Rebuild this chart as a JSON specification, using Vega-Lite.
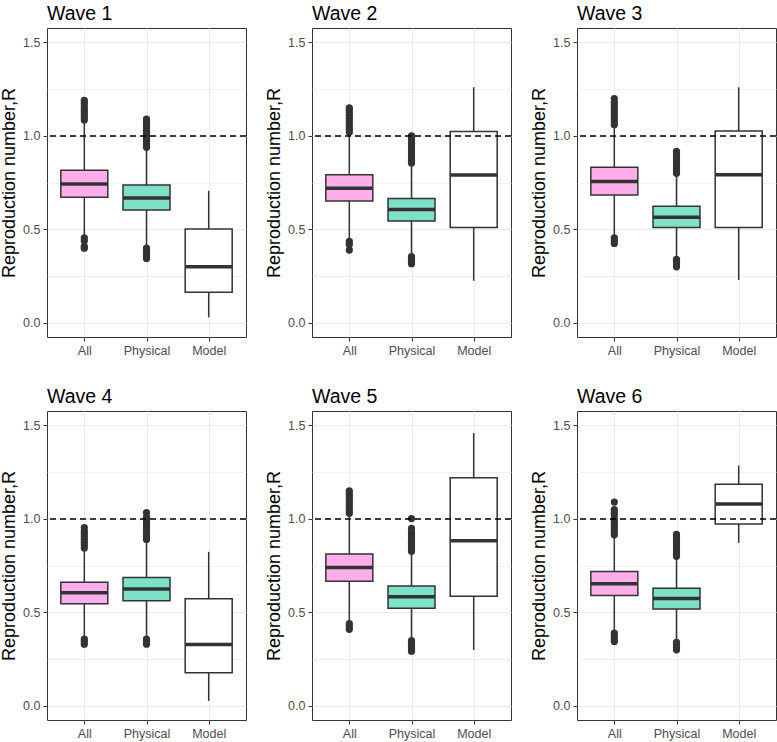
{
  "$schema": "https://vega.github.io/schema/vega-lite/v6.json",
  "padding": {"top": 3, "left": 0, "right": 0, "bottom": 2},
  "background": "white",
  "data": {"values": [
    {"wave": "Wave 1", "group": "All", "kind": "box", "lo": 0.46, "q1": 0.672, "med": 0.743, "q3": 0.816, "hi": 1.08},
    {"wave": "Wave 1", "group": "Physical", "kind": "box", "lo": 0.41, "q1": 0.604, "med": 0.668, "q3": 0.738, "hi": 0.93},
    {"wave": "Wave 1", "group": "Model", "kind": "box", "lo": 0.03, "q1": 0.164, "med": 0.301, "q3": 0.502, "hi": 0.707},
    {"wave": "Wave 2", "group": "All", "kind": "box", "lo": 0.45, "q1": 0.652, "med": 0.72, "q3": 0.793, "hi": 1.01},
    {"wave": "Wave 2", "group": "Physical", "kind": "box", "lo": 0.37, "q1": 0.545, "med": 0.606, "q3": 0.666, "hi": 0.845},
    {"wave": "Wave 2", "group": "Model", "kind": "box", "lo": 0.226, "q1": 0.51, "med": 0.791, "q3": 1.024, "hi": 1.26},
    {"wave": "Wave 3", "group": "All", "kind": "box", "lo": 0.47, "q1": 0.684, "med": 0.757, "q3": 0.832, "hi": 1.05},
    {"wave": "Wave 3", "group": "Physical", "kind": "box", "lo": 0.35, "q1": 0.51, "med": 0.565, "q3": 0.624, "hi": 0.79},
    {"wave": "Wave 3", "group": "Model", "kind": "box", "lo": 0.23, "q1": 0.51, "med": 0.793, "q3": 1.026, "hi": 1.26},
    {"wave": "Wave 4", "group": "All", "kind": "box", "lo": 0.37, "q1": 0.546, "med": 0.605, "q3": 0.662, "hi": 0.835},
    {"wave": "Wave 4", "group": "Physical", "kind": "box", "lo": 0.37, "q1": 0.562, "med": 0.625, "q3": 0.687, "hi": 0.88},
    {"wave": "Wave 4", "group": "Model", "kind": "box", "lo": 0.027, "q1": 0.178, "med": 0.329, "q3": 0.573, "hi": 0.824},
    {"wave": "Wave 5", "group": "All", "kind": "box", "lo": 0.45, "q1": 0.667, "med": 0.74, "q3": 0.813, "hi": 1.03},
    {"wave": "Wave 5", "group": "Physical", "kind": "box", "lo": 0.36, "q1": 0.523, "med": 0.584, "q3": 0.641, "hi": 0.82},
    {"wave": "Wave 5", "group": "Model", "kind": "box", "lo": 0.299, "q1": 0.587, "med": 0.883, "q3": 1.22, "hi": 1.459},
    {"wave": "Wave 6", "group": "All", "kind": "box", "lo": 0.4, "q1": 0.591, "med": 0.653, "q3": 0.719, "hi": 0.91},
    {"wave": "Wave 6", "group": "Physical", "kind": "box", "lo": 0.35, "q1": 0.518, "med": 0.575, "q3": 0.63, "hi": 0.8},
    {"wave": "Wave 6", "group": "Model", "kind": "box", "lo": 0.872, "q1": 0.973, "med": 1.08, "q3": 1.185, "hi": 1.286},

    {"wave": "Wave 1", "group": "All", "kind": "out", "r": 1.085},
    {"wave": "Wave 1", "group": "All", "kind": "out", "r": 1.1},
    {"wave": "Wave 1", "group": "All", "kind": "out", "r": 1.115},
    {"wave": "Wave 1", "group": "All", "kind": "out", "r": 1.13},
    {"wave": "Wave 1", "group": "All", "kind": "out", "r": 1.145},
    {"wave": "Wave 1", "group": "All", "kind": "out", "r": 1.16},
    {"wave": "Wave 1", "group": "All", "kind": "out", "r": 1.175},
    {"wave": "Wave 1", "group": "All", "kind": "out", "r": 1.19},
    {"wave": "Wave 1", "group": "All", "kind": "out", "r": 0.40},
    {"wave": "Wave 1", "group": "All", "kind": "out", "r": 0.41},
    {"wave": "Wave 1", "group": "All", "kind": "out", "r": 0.44},
    {"wave": "Wave 1", "group": "All", "kind": "out", "r": 0.455},
    {"wave": "Wave 1", "group": "Physical", "kind": "out", "r": 0.94},
    {"wave": "Wave 1", "group": "Physical", "kind": "out", "r": 0.955},
    {"wave": "Wave 1", "group": "Physical", "kind": "out", "r": 0.97},
    {"wave": "Wave 1", "group": "Physical", "kind": "out", "r": 0.985},
    {"wave": "Wave 1", "group": "Physical", "kind": "out", "r": 1.0},
    {"wave": "Wave 1", "group": "Physical", "kind": "out", "r": 1.015},
    {"wave": "Wave 1", "group": "Physical", "kind": "out", "r": 1.03},
    {"wave": "Wave 1", "group": "Physical", "kind": "out", "r": 1.045},
    {"wave": "Wave 1", "group": "Physical", "kind": "out", "r": 1.06},
    {"wave": "Wave 1", "group": "Physical", "kind": "out", "r": 1.075},
    {"wave": "Wave 1", "group": "Physical", "kind": "out", "r": 1.09},
    {"wave": "Wave 1", "group": "Physical", "kind": "out", "r": 0.345},
    {"wave": "Wave 1", "group": "Physical", "kind": "out", "r": 0.36},
    {"wave": "Wave 1", "group": "Physical", "kind": "out", "r": 0.375},
    {"wave": "Wave 1", "group": "Physical", "kind": "out", "r": 0.39},
    {"wave": "Wave 1", "group": "Physical", "kind": "out", "r": 0.40},

    {"wave": "Wave 2", "group": "All", "kind": "out", "r": 1.02},
    {"wave": "Wave 2", "group": "All", "kind": "out", "r": 1.035},
    {"wave": "Wave 2", "group": "All", "kind": "out", "r": 1.05},
    {"wave": "Wave 2", "group": "All", "kind": "out", "r": 1.065},
    {"wave": "Wave 2", "group": "All", "kind": "out", "r": 1.08},
    {"wave": "Wave 2", "group": "All", "kind": "out", "r": 1.095},
    {"wave": "Wave 2", "group": "All", "kind": "out", "r": 1.11},
    {"wave": "Wave 2", "group": "All", "kind": "out", "r": 1.125},
    {"wave": "Wave 2", "group": "All", "kind": "out", "r": 1.14},
    {"wave": "Wave 2", "group": "All", "kind": "out", "r": 1.15},
    {"wave": "Wave 2", "group": "All", "kind": "out", "r": 0.39},
    {"wave": "Wave 2", "group": "All", "kind": "out", "r": 0.42},
    {"wave": "Wave 2", "group": "All", "kind": "out", "r": 0.437},
    {"wave": "Wave 2", "group": "Physical", "kind": "out", "r": 0.855},
    {"wave": "Wave 2", "group": "Physical", "kind": "out", "r": 0.87},
    {"wave": "Wave 2", "group": "Physical", "kind": "out", "r": 0.885},
    {"wave": "Wave 2", "group": "Physical", "kind": "out", "r": 0.9},
    {"wave": "Wave 2", "group": "Physical", "kind": "out", "r": 0.915},
    {"wave": "Wave 2", "group": "Physical", "kind": "out", "r": 0.93},
    {"wave": "Wave 2", "group": "Physical", "kind": "out", "r": 0.945},
    {"wave": "Wave 2", "group": "Physical", "kind": "out", "r": 0.96},
    {"wave": "Wave 2", "group": "Physical", "kind": "out", "r": 0.975},
    {"wave": "Wave 2", "group": "Physical", "kind": "out", "r": 0.99},
    {"wave": "Wave 2", "group": "Physical", "kind": "out", "r": 1.0},
    {"wave": "Wave 2", "group": "Physical", "kind": "out", "r": 0.317},
    {"wave": "Wave 2", "group": "Physical", "kind": "out", "r": 0.33},
    {"wave": "Wave 2", "group": "Physical", "kind": "out", "r": 0.345},
    {"wave": "Wave 2", "group": "Physical", "kind": "out", "r": 0.355},

    {"wave": "Wave 3", "group": "All", "kind": "out", "r": 1.06},
    {"wave": "Wave 3", "group": "All", "kind": "out", "r": 1.075},
    {"wave": "Wave 3", "group": "All", "kind": "out", "r": 1.09},
    {"wave": "Wave 3", "group": "All", "kind": "out", "r": 1.105},
    {"wave": "Wave 3", "group": "All", "kind": "out", "r": 1.12},
    {"wave": "Wave 3", "group": "All", "kind": "out", "r": 1.135},
    {"wave": "Wave 3", "group": "All", "kind": "out", "r": 1.15},
    {"wave": "Wave 3", "group": "All", "kind": "out", "r": 1.165},
    {"wave": "Wave 3", "group": "All", "kind": "out", "r": 1.18},
    {"wave": "Wave 3", "group": "All", "kind": "out", "r": 1.2},
    {"wave": "Wave 3", "group": "All", "kind": "out", "r": 0.425},
    {"wave": "Wave 3", "group": "All", "kind": "out", "r": 0.44},
    {"wave": "Wave 3", "group": "All", "kind": "out", "r": 0.455},
    {"wave": "Wave 3", "group": "Physical", "kind": "out", "r": 0.8},
    {"wave": "Wave 3", "group": "Physical", "kind": "out", "r": 0.815},
    {"wave": "Wave 3", "group": "Physical", "kind": "out", "r": 0.83},
    {"wave": "Wave 3", "group": "Physical", "kind": "out", "r": 0.845},
    {"wave": "Wave 3", "group": "Physical", "kind": "out", "r": 0.86},
    {"wave": "Wave 3", "group": "Physical", "kind": "out", "r": 0.875},
    {"wave": "Wave 3", "group": "Physical", "kind": "out", "r": 0.89},
    {"wave": "Wave 3", "group": "Physical", "kind": "out", "r": 0.905},
    {"wave": "Wave 3", "group": "Physical", "kind": "out", "r": 0.918},
    {"wave": "Wave 3", "group": "Physical", "kind": "out", "r": 0.3},
    {"wave": "Wave 3", "group": "Physical", "kind": "out", "r": 0.315},
    {"wave": "Wave 3", "group": "Physical", "kind": "out", "r": 0.33},
    {"wave": "Wave 3", "group": "Physical", "kind": "out", "r": 0.34},

    {"wave": "Wave 4", "group": "All", "kind": "out", "r": 0.845},
    {"wave": "Wave 4", "group": "All", "kind": "out", "r": 0.86},
    {"wave": "Wave 4", "group": "All", "kind": "out", "r": 0.875},
    {"wave": "Wave 4", "group": "All", "kind": "out", "r": 0.89},
    {"wave": "Wave 4", "group": "All", "kind": "out", "r": 0.905},
    {"wave": "Wave 4", "group": "All", "kind": "out", "r": 0.92},
    {"wave": "Wave 4", "group": "All", "kind": "out", "r": 0.935},
    {"wave": "Wave 4", "group": "All", "kind": "out", "r": 0.954},
    {"wave": "Wave 4", "group": "All", "kind": "out", "r": 0.33},
    {"wave": "Wave 4", "group": "All", "kind": "out", "r": 0.345},
    {"wave": "Wave 4", "group": "All", "kind": "out", "r": 0.358},
    {"wave": "Wave 4", "group": "Physical", "kind": "out", "r": 0.89},
    {"wave": "Wave 4", "group": "Physical", "kind": "out", "r": 0.905},
    {"wave": "Wave 4", "group": "Physical", "kind": "out", "r": 0.92},
    {"wave": "Wave 4", "group": "Physical", "kind": "out", "r": 0.935},
    {"wave": "Wave 4", "group": "Physical", "kind": "out", "r": 0.95},
    {"wave": "Wave 4", "group": "Physical", "kind": "out", "r": 0.965},
    {"wave": "Wave 4", "group": "Physical", "kind": "out", "r": 0.98},
    {"wave": "Wave 4", "group": "Physical", "kind": "out", "r": 0.995},
    {"wave": "Wave 4", "group": "Physical", "kind": "out", "r": 1.01},
    {"wave": "Wave 4", "group": "Physical", "kind": "out", "r": 1.034},
    {"wave": "Wave 4", "group": "Physical", "kind": "out", "r": 0.33},
    {"wave": "Wave 4", "group": "Physical", "kind": "out", "r": 0.345},
    {"wave": "Wave 4", "group": "Physical", "kind": "out", "r": 0.358},

    {"wave": "Wave 5", "group": "All", "kind": "out", "r": 1.03},
    {"wave": "Wave 5", "group": "All", "kind": "out", "r": 1.045},
    {"wave": "Wave 5", "group": "All", "kind": "out", "r": 1.06},
    {"wave": "Wave 5", "group": "All", "kind": "out", "r": 1.075},
    {"wave": "Wave 5", "group": "All", "kind": "out", "r": 1.09},
    {"wave": "Wave 5", "group": "All", "kind": "out", "r": 1.105},
    {"wave": "Wave 5", "group": "All", "kind": "out", "r": 1.12},
    {"wave": "Wave 5", "group": "All", "kind": "out", "r": 1.135},
    {"wave": "Wave 5", "group": "All", "kind": "out", "r": 1.15},
    {"wave": "Wave 5", "group": "All", "kind": "out", "r": 0.41},
    {"wave": "Wave 5", "group": "All", "kind": "out", "r": 0.425},
    {"wave": "Wave 5", "group": "All", "kind": "out", "r": 0.44},
    {"wave": "Wave 5", "group": "Physical", "kind": "out", "r": 0.827},
    {"wave": "Wave 5", "group": "Physical", "kind": "out", "r": 0.84},
    {"wave": "Wave 5", "group": "Physical", "kind": "out", "r": 0.855},
    {"wave": "Wave 5", "group": "Physical", "kind": "out", "r": 0.87},
    {"wave": "Wave 5", "group": "Physical", "kind": "out", "r": 0.885},
    {"wave": "Wave 5", "group": "Physical", "kind": "out", "r": 0.9},
    {"wave": "Wave 5", "group": "Physical", "kind": "out", "r": 0.915},
    {"wave": "Wave 5", "group": "Physical", "kind": "out", "r": 0.93},
    {"wave": "Wave 5", "group": "Physical", "kind": "out", "r": 0.95},
    {"wave": "Wave 5", "group": "Physical", "kind": "out", "r": 1.002},
    {"wave": "Wave 5", "group": "Physical", "kind": "out", "r": 0.293},
    {"wave": "Wave 5", "group": "Physical", "kind": "out", "r": 0.305},
    {"wave": "Wave 5", "group": "Physical", "kind": "out", "r": 0.32},
    {"wave": "Wave 5", "group": "Physical", "kind": "out", "r": 0.335},
    {"wave": "Wave 5", "group": "Physical", "kind": "out", "r": 0.35},

    {"wave": "Wave 6", "group": "All", "kind": "out", "r": 0.915},
    {"wave": "Wave 6", "group": "All", "kind": "out", "r": 0.93},
    {"wave": "Wave 6", "group": "All", "kind": "out", "r": 0.945},
    {"wave": "Wave 6", "group": "All", "kind": "out", "r": 0.96},
    {"wave": "Wave 6", "group": "All", "kind": "out", "r": 0.975},
    {"wave": "Wave 6", "group": "All", "kind": "out", "r": 0.99},
    {"wave": "Wave 6", "group": "All", "kind": "out", "r": 1.0},
    {"wave": "Wave 6", "group": "All", "kind": "out", "r": 1.02},
    {"wave": "Wave 6", "group": "All", "kind": "out", "r": 1.035},
    {"wave": "Wave 6", "group": "All", "kind": "out", "r": 1.05},
    {"wave": "Wave 6", "group": "All", "kind": "out", "r": 1.09},
    {"wave": "Wave 6", "group": "All", "kind": "out", "r": 0.345},
    {"wave": "Wave 6", "group": "All", "kind": "out", "r": 0.36},
    {"wave": "Wave 6", "group": "All", "kind": "out", "r": 0.375},
    {"wave": "Wave 6", "group": "All", "kind": "out", "r": 0.39},
    {"wave": "Wave 6", "group": "Physical", "kind": "out", "r": 0.8},
    {"wave": "Wave 6", "group": "Physical", "kind": "out", "r": 0.815},
    {"wave": "Wave 6", "group": "Physical", "kind": "out", "r": 0.83},
    {"wave": "Wave 6", "group": "Physical", "kind": "out", "r": 0.845},
    {"wave": "Wave 6", "group": "Physical", "kind": "out", "r": 0.86},
    {"wave": "Wave 6", "group": "Physical", "kind": "out", "r": 0.875},
    {"wave": "Wave 6", "group": "Physical", "kind": "out", "r": 0.89},
    {"wave": "Wave 6", "group": "Physical", "kind": "out", "r": 0.905},
    {"wave": "Wave 6", "group": "Physical", "kind": "out", "r": 0.918},
    {"wave": "Wave 6", "group": "Physical", "kind": "out", "r": 0.3},
    {"wave": "Wave 6", "group": "Physical", "kind": "out", "r": 0.315},
    {"wave": "Wave 6", "group": "Physical", "kind": "out", "r": 0.33},
    {"wave": "Wave 6", "group": "Physical", "kind": "out", "r": 0.34}
  ]},
  "facet": {"field": "wave", "type": "nominal", "header": {"title": null, "labelAnchor": "start", "labelFontSize": 19.5, "labelFont": "Liberation Sans", "labelColor": "black", "labelPadding": 4}},
  "columns": 3,
  "spacing": {"column": 17, "row": 29},
  "resolve": {"axis": {"x": "independent", "y": "independent"}},
  "spec": {
    "width": 199,
    "height": 309,
    "layer": [
      {
        "transform": [{"filter": "datum.kind === 'box'"}],
        "mark": {"type": "rule", "color": "#333333", "strokeWidth": 1.5},
        "encoding": {
          "x": {"field": "group", "type": "nominal", "sort": ["All", "Physical", "Model"], "scale": {"type": "point", "padding": 0.6, "domain": ["All", "Physical", "Model"]},
                "axis": {"title": null, "labelAngle": 0, "grid": true, "gridColor": "#ebebeb", "gridWidth": 1, "domain": false, "tickColor": "#333333", "tickSize": 4, "labelColor": "#4d4d4d", "labelFontSize": 12.5, "labelFont": "Liberation Sans", "labelPadding": 3}},
          "y": {"field": "lo", "type": "quantitative", "scale": {"domain": [-0.075, 1.577], "nice": false, "zero": false},
                "axis": {"title": "Reproduction number,R", "titleFontSize": 18, "titleFont": "Liberation Sans", "titleFontWeight": "normal", "titleColor": "black", "titlePadding": 4,
                         "values": [0, 0.25, 0.5, 0.75, 1, 1.25, 1.5],
                         "labelExpr": "datum.value % 0.5 === 0 ? format(datum.value, '.1f') : ''",
                         "grid": true, "gridColor": "#ebebeb",
                         "gridWidth": {"condition": {"test": "datum.value % 0.5 === 0", "value": 1.2}, "value": 0.7},
                         "tickOpacity": {"condition": {"test": "datum.value % 0.5 === 0", "value": 1}, "value": 0},
                         "domain": false, "tickColor": "#333333", "tickSize": 4, "labelColor": "#4d4d4d", "labelFontSize": 12.5, "labelFont": "Liberation Sans", "labelPadding": 3}},
          "y2": {"field": "hi"}
        }
      },
      {
        "transform": [{"filter": "datum.kind === 'box'"}],
        "mark": {"type": "bar", "size": 47, "stroke": "#333333", "strokeWidth": 1.5},
        "encoding": {
          "x": {"field": "group", "type": "nominal"},
          "y": {"field": "q1", "type": "quantitative", "title": "Reproduction number,R"},
          "y2": {"field": "q3"},
          "fill": {"field": "group", "type": "nominal", "scale": {"domain": ["All", "Physical", "Model"], "range": ["#FFAEEB", "#7FE0C8", "#FFFFFF"]}, "legend": null}
        }
      },
      {
        "transform": [{"filter": "datum.kind === 'box'"}],
        "mark": {"type": "tick", "size": 47, "thickness": 3.5, "color": "#333333", "opacity": 1},
        "encoding": {
          "x": {"field": "group", "type": "nominal"},
          "y": {"field": "med", "type": "quantitative", "title": "Reproduction number,R"}
        }
      },
      {
        "transform": [{"filter": "datum.kind === 'out'"}],
        "mark": {"type": "circle", "size": 52, "color": "#333333", "opacity": 1},
        "encoding": {
          "x": {"field": "group", "type": "nominal"},
          "y": {"field": "r", "type": "quantitative", "title": "Reproduction number,R"}
        }
      },
      {
        "transform": [{"filter": "datum.kind === 'box' && datum.group === 'All'"}],
        "mark": {"type": "rule", "color": "black", "strokeWidth": 1.5, "strokeDash": [6, 4]},
        "encoding": {
          "y": {"datum": 1, "type": "quantitative"}
        }
      }
    ]
  },
  "config": {
    "view": {"stroke": "#333333", "strokeWidth": 1},
    "font": "Liberation Sans"
  }
}
